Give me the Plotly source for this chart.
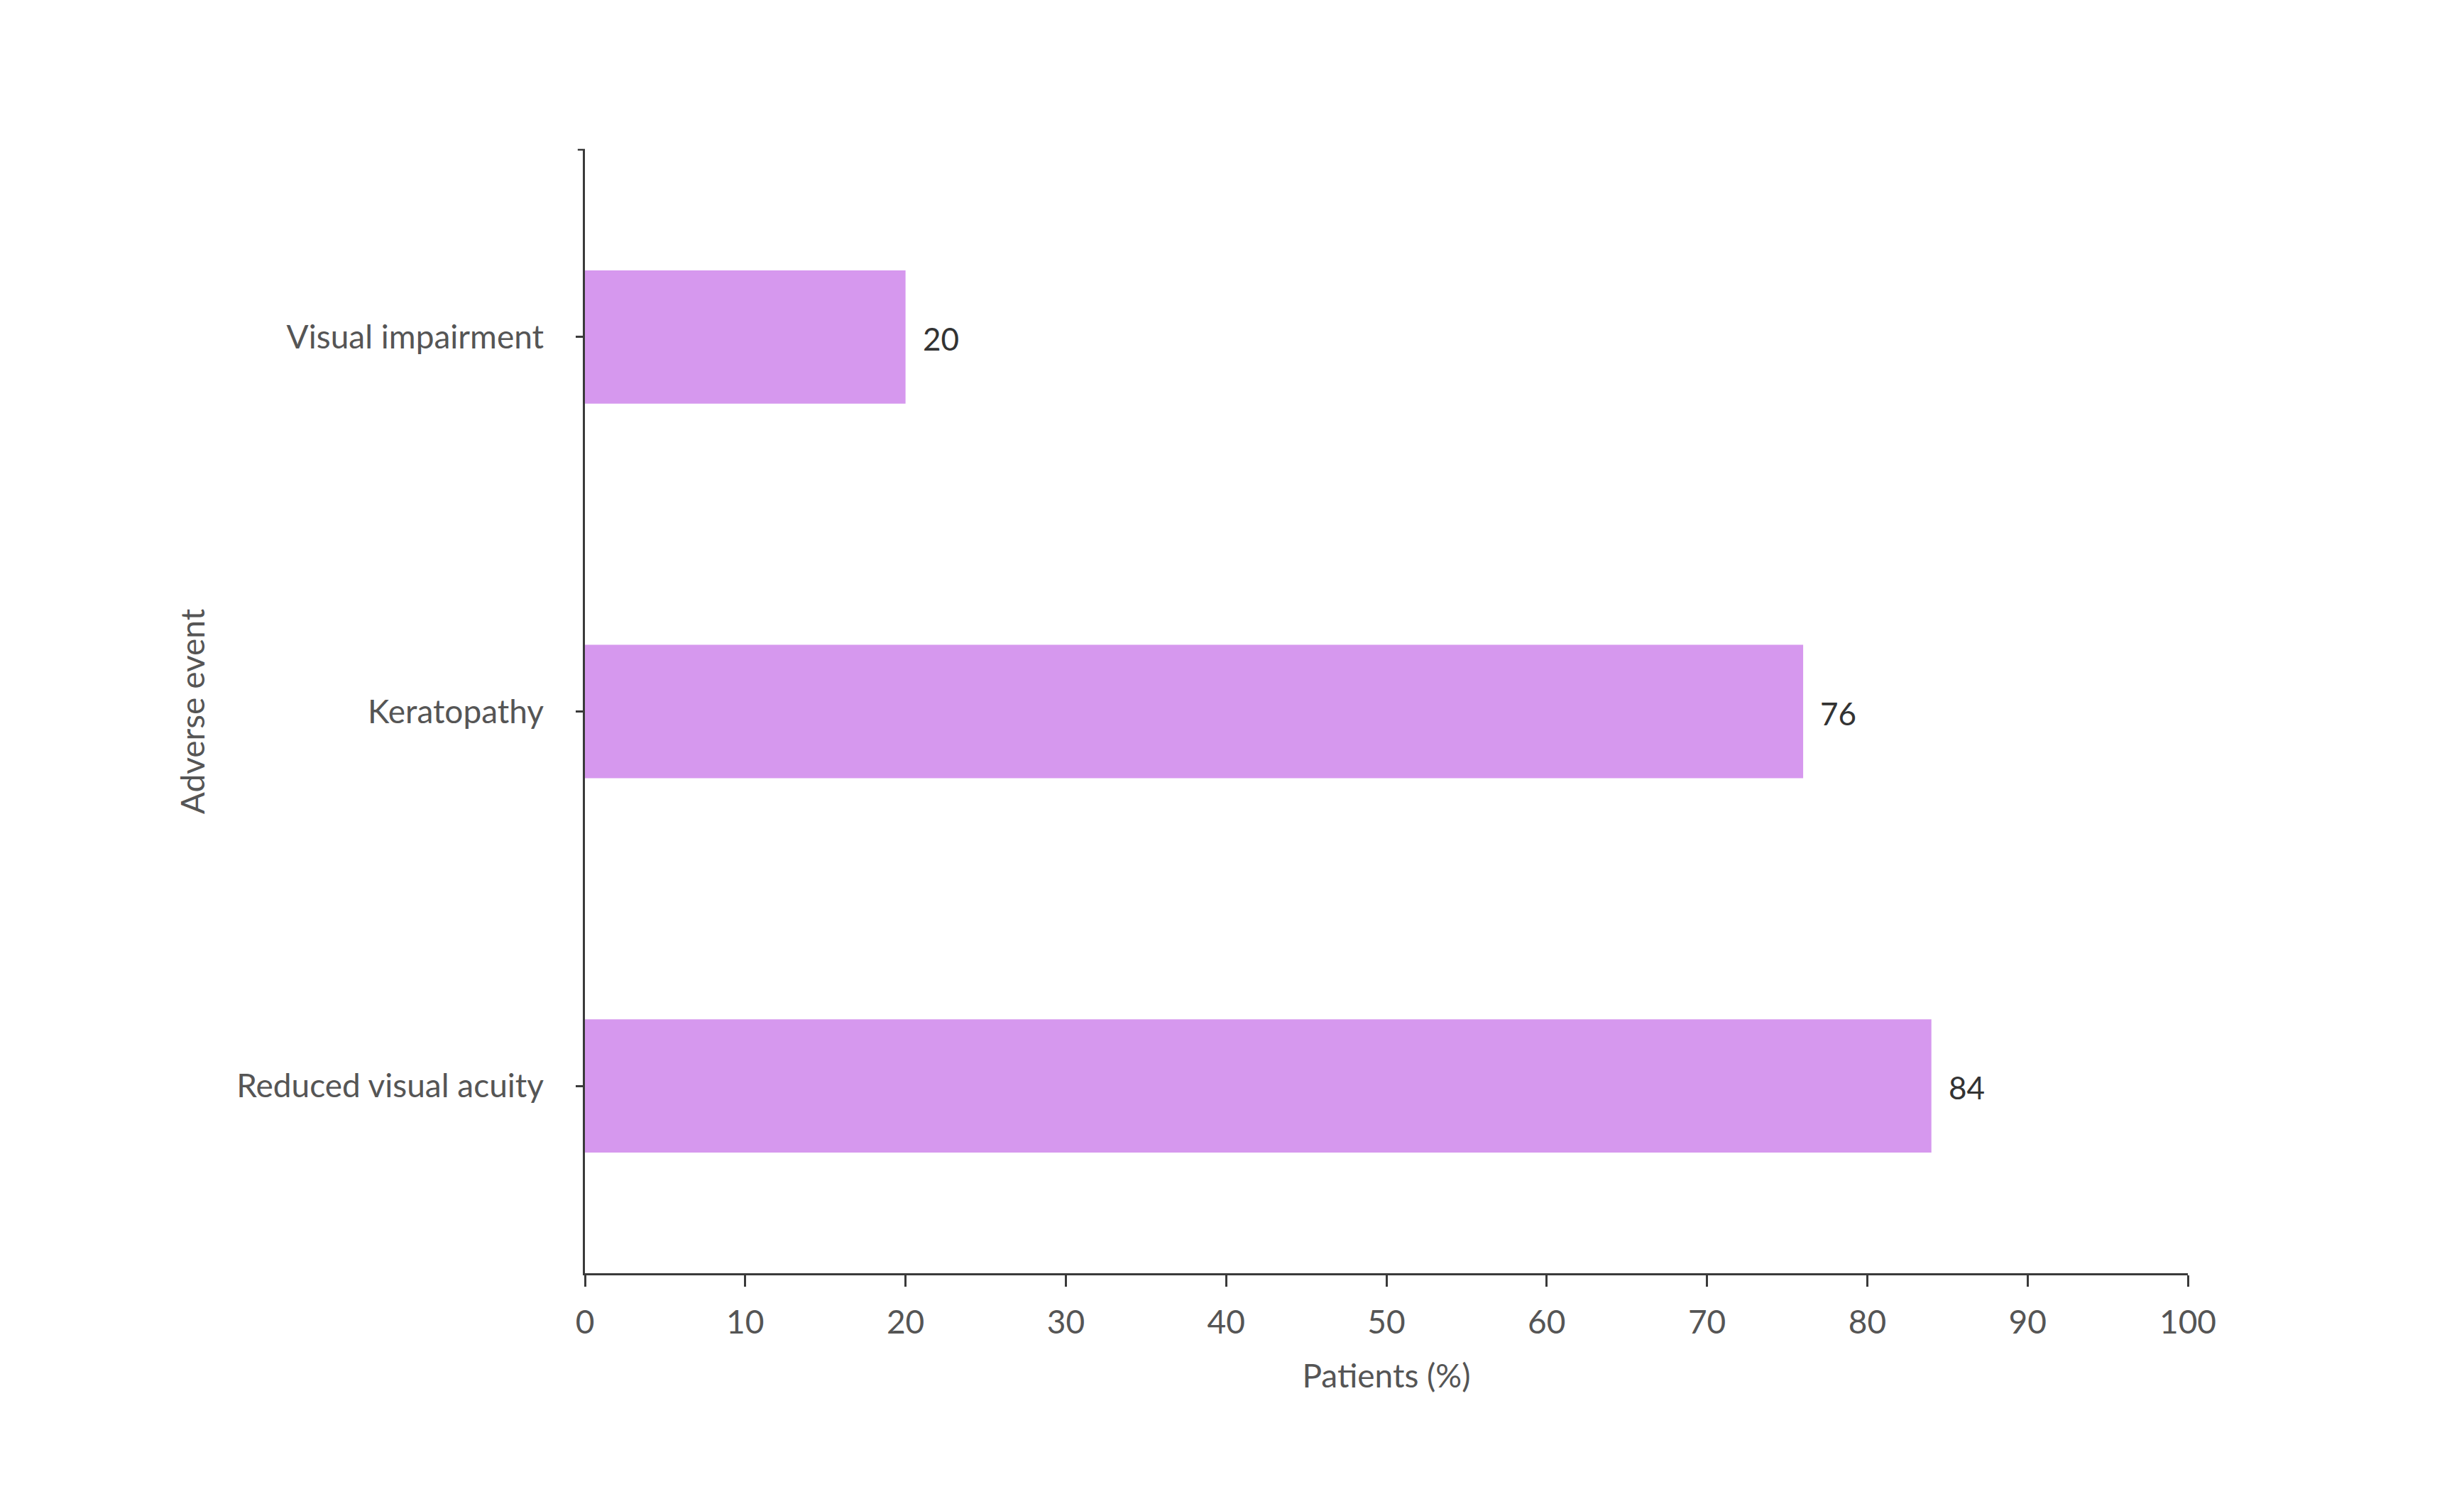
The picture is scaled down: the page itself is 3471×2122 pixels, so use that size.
import plotly.graph_objects as go

categories = ["Reduced visual acuity", "Keratopathy", "Visual impairment"]
values = [84, 76, 20]
x_ticks = [0, 10, 20, 30, 40, 50, 60, 70, 80, 90, 100]

BAR_COLOR = "#D698EE"
AXIS_COLOR = "#3a3a3a"
TICK_TEXT = "#555555"
FONT = "Source Sans Pro, Lato, sans-serif"

fig = go.Figure()
fig.add_trace(go.Bar(
    x=values, y=categories, orientation="h",
    marker=dict(color=BAR_COLOR, line=dict(width=0)),
    hoverinfo="x+y",
))

for c, v in zip(categories, values):
    fig.add_annotation(x=v, y=c, text=str(v), showarrow=False,
                       xanchor="left", xshift=22, yshift=-2,
                       font=dict(family=FONT, size=44, color="#333333"))

# small cap at top of the y axis
fig.add_shape(type="line", xref="paper", yref="paper",
              x0=-0.0045, x1=0, y0=1, y1=1,
              line=dict(color=AXIS_COLOR, width=2.5))

fig.update_layout(
    width=3471, height=2122,
    paper_bgcolor="white", plot_bgcolor="white",
    margin=dict(l=816, r=397, t=203, b=336),
    bargap=0.644,
    showlegend=False,
    font=dict(family=FONT, size=46, color=TICK_TEXT),
)
fig.update_xaxes(
    range=[0, 100], tickvals=x_ticks, ticktext=[str(t) for t in x_ticks],
    showgrid=False, zeroline=False,
    showline=True, linecolor=AXIS_COLOR, linewidth=2.5,
    ticks="outside", ticklen=16, tickwidth=2.5, tickcolor=AXIS_COLOR,
    ticklabelstandoff=11,
    tickfont=dict(family=FONT, size=46, color=TICK_TEXT),
    title=dict(text="Patients (%)", font=dict(family=FONT, size=46, color=TICK_TEXT), standoff=35),
)
fig.update_yaxes(
    range=[-0.5, 2.5], categoryorder="array", categoryarray=categories,
    showgrid=False, zeroline=False,
    showline=True, linecolor=AXIS_COLOR, linewidth=2.5,
    ticks="outside", ticklen=10, tickwidth=2.5, tickcolor=AXIS_COLOR,
    ticklabelstandoff=36,
    tickfont=dict(family=FONT, size=46, color=TICK_TEXT),
    title=dict(text="Adverse event", font=dict(family=FONT, size=46, color=TICK_TEXT), standoff=31),
)

fig.write_html("out.html")
